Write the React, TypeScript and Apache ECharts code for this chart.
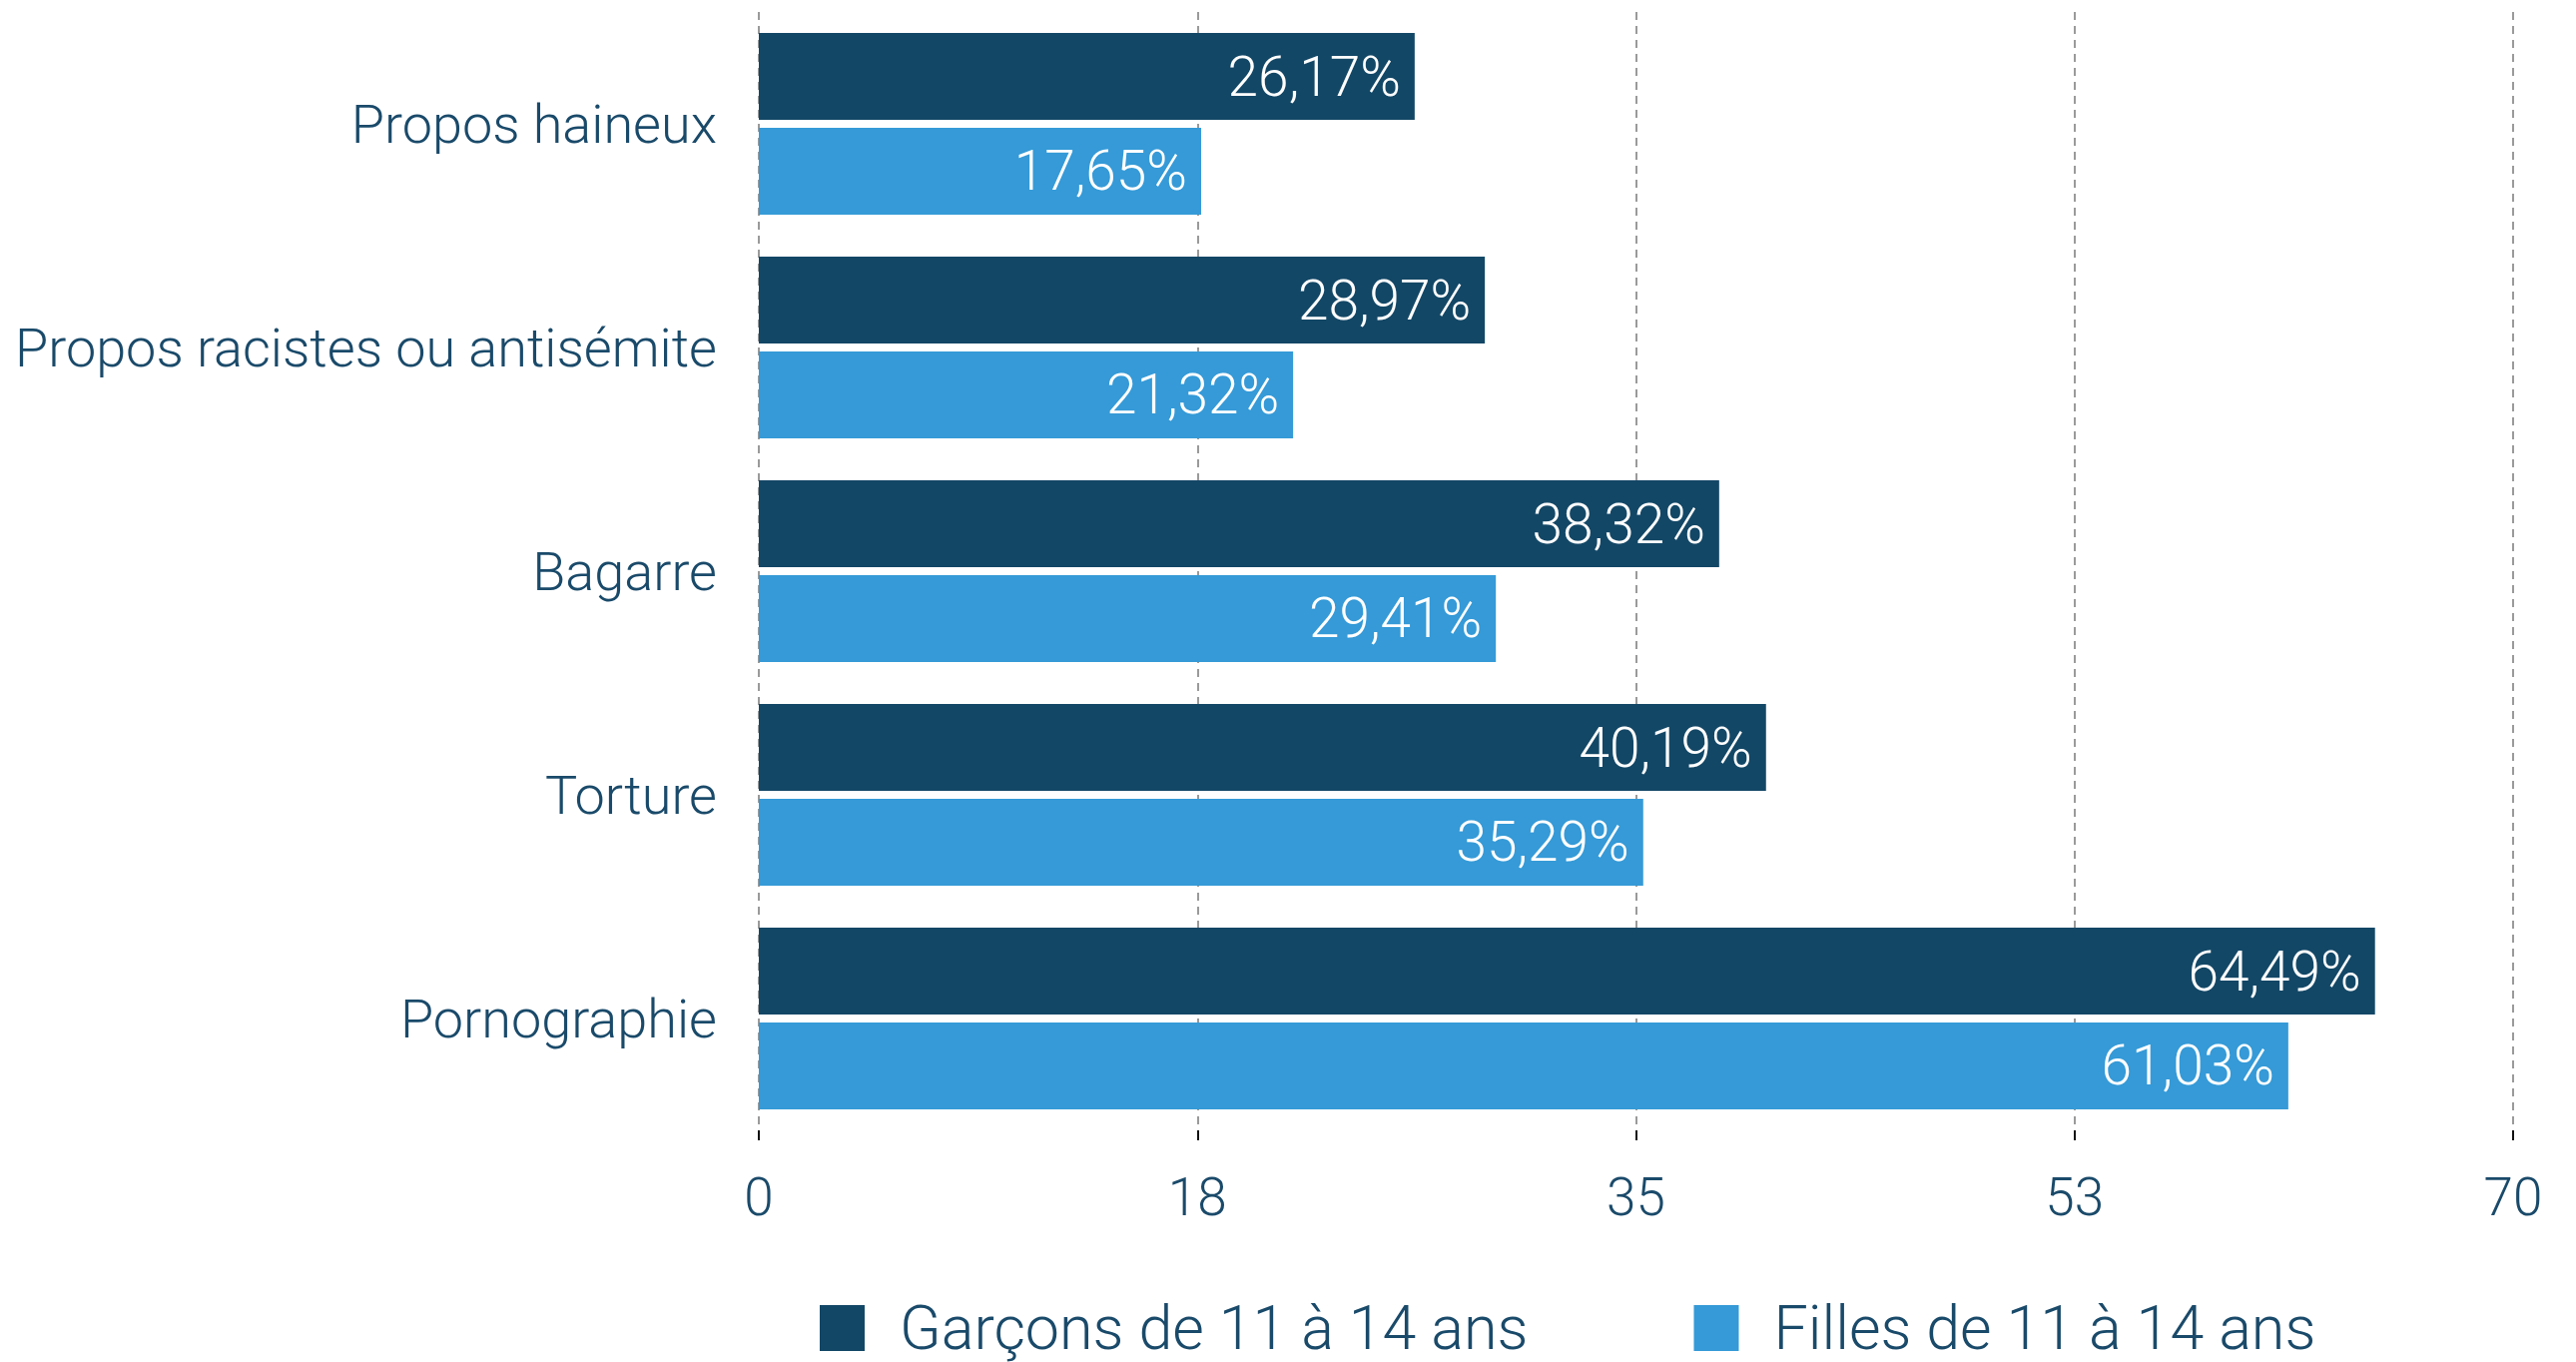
import React, { useEffect, useRef } from "react";
import * as echarts from "echarts";

const categories = ["Propos haineux", "Propos racistes ou antisémite", "Bagarre", "Torture", "Pornographie"];
const garcons = [26.17, 28.97, 38.32, 40.19, 64.49];
const filles = [17.65, 21.32, 29.41, 35.29, 61.03];
const seriesNames = ["Garçons de 11 à 14 ans", "Filles de 11 à 14 ans"];
const axisMax = 70;
const axisInterval = 17.5;

const DARK = "#134766";
const LIGHT = "#359AD7";
const TEXT = "#1A4A6A";
const FONT = "Roboto";

export default function App() {
  const ref = useRef<HTMLDivElement>(null);
  useEffect(() => {
    if (!ref.current) return;
    const chart = echarts.init(ref.current, undefined, { renderer: "svg" });
    const fmt = (v: number) => v.toFixed(2).replace(".", ",") + "%";
    const label = {
      show: true,
      position: "insideRight" as const,
      distance: 14,
      color: "#ffffff",
      fontFamily: FONT,
      fontWeight: 300,
      fontSize: 55,
      formatter: (p: any) => fmt(p.value),
    };
    chart.setOption({
      animation: false,
      grid: { left: 760, right: 63, top: 12, bottom: 1364 - 1132, containLabel: false },
      legend: {
        left: 816,
        top: 1293,
        itemWidth: 45,
        itemHeight: 46,
        itemGap: 166,
        icon: "rect",
        textStyle: { color: TEXT, fontFamily: FONT, fontWeight: 300, fontSize: 61, lineHeight: 64, padding: [0, 0, 0, 30] },
        data: seriesNames,
      },
      xAxis: {
        type: "value",
        min: 0,
        max: axisMax,
        interval: axisInterval,
        axisLine: { show: false },
        axisTick: { show: true, length: 10, lineStyle: { color: "#111", width: 2 } },
        axisLabel: {
          margin: 40,
          color: TEXT,
          fontFamily: FONT,
          fontWeight: 300,
          fontSize: 53,
          formatter: (v: number) => String(Math.round(v)),
        },
        splitLine: { show: true, lineStyle: { color: "#9a9a9a", width: 2, type: [8, 6] } },
      },
      yAxis: {
        type: "category",
        inverse: true,
        data: categories,
        axisLine: { show: false },
        axisTick: { show: false },
        axisLabel: { margin: 42, color: TEXT, fontFamily: FONT, fontWeight: 300, fontSize: 54 },
      },
      series: [
        { name: seriesNames[0], type: "bar", data: garcons, barWidth: 87, barGap: "9%", itemStyle: { color: DARK }, label },
        { name: seriesNames[1], type: "bar", data: filles, barWidth: 87, barGap: "9%", itemStyle: { color: LIGHT }, label },
      ],
    });
    return () => chart.dispose();
  }, []);
  return (
    <div
      ref={ref}
      style={{ position: "absolute", left: 0, top: 0, width: 2580, height: 1364, background: "#fff" }}
    />
  );
}
